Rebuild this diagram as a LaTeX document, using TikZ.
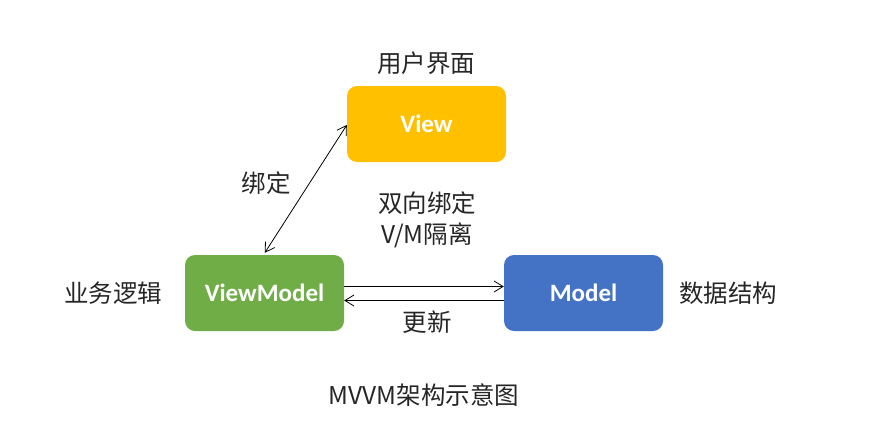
\documentclass[tikz,border=0pt]{standalone}
\usepackage{fontspec}
\setmainfont{Carlito}
\newfontfamily\cjk{Noto Sans CJK SC}
\usetikzlibrary{arrows.meta}
\definecolor{vyellow}{HTML}{FFC000}
\definecolor{vmgreen}{HTML}{70AD47}
\definecolor{mblue}{HTML}{4472C4}
\tikzset{
  box/.style={rounded corners=10pt, minimum width=159pt, minimum height=76pt, inner sep=0pt, text=white, font=\fontsize{25}{28}\selectfont\bfseries},
  lbl/.style={font=\cjk\fontsize{24.5}{31}\selectfont, text=black!85, align=center},
  barb/.tip={Straight Barb[length=9pt,width=11pt,line width=0.8pt]},
  conn/.style={line width=0.8pt, -barb},
}
\begin{document}
\begin{tikzpicture}[x=1pt,y=-1pt]
\useasboundingbox (0,0) rectangle (873,424);
\node[box, fill=vyellow] (view) at (426.5,124) {View};
\node[box, fill=vmgreen] (vm) at (264.5,293) {ViewModel};
\node[box, fill=mblue] (model) at (583.5,293) {Model};
\node[lbl] (ui) at (426,63) {用户界面};
\node[lbl] (bind) at (266,183) {绑定};
\node[lbl] (twoway) at (427,220) {双向绑定\\V/M隔离};
\node[lbl] (biz) at (113,293) {业务逻辑};
\node[lbl] (data) at (728,293) {数据结构};
\node[lbl] (upd) at (427,322) {更新};
\node[lbl] (title) at (424,395) {MVVM架构示意图};
\coordinate (d1) at ([xshift=80pt,yshift=2pt]vm.north west);
\coordinate (d2) at ([yshift=-1pt]view.west);
\draw[line width=0.8pt, barb-barb] (d1) -- (d2);
\draw[conn] ([yshift=6.5pt]vm.east) -- ([yshift=6.5pt]model.west);
\draw[conn] ([yshift=-7.5pt]model.west) -- ([yshift=-7.5pt]vm.east);
\end{tikzpicture}
\end{document}
